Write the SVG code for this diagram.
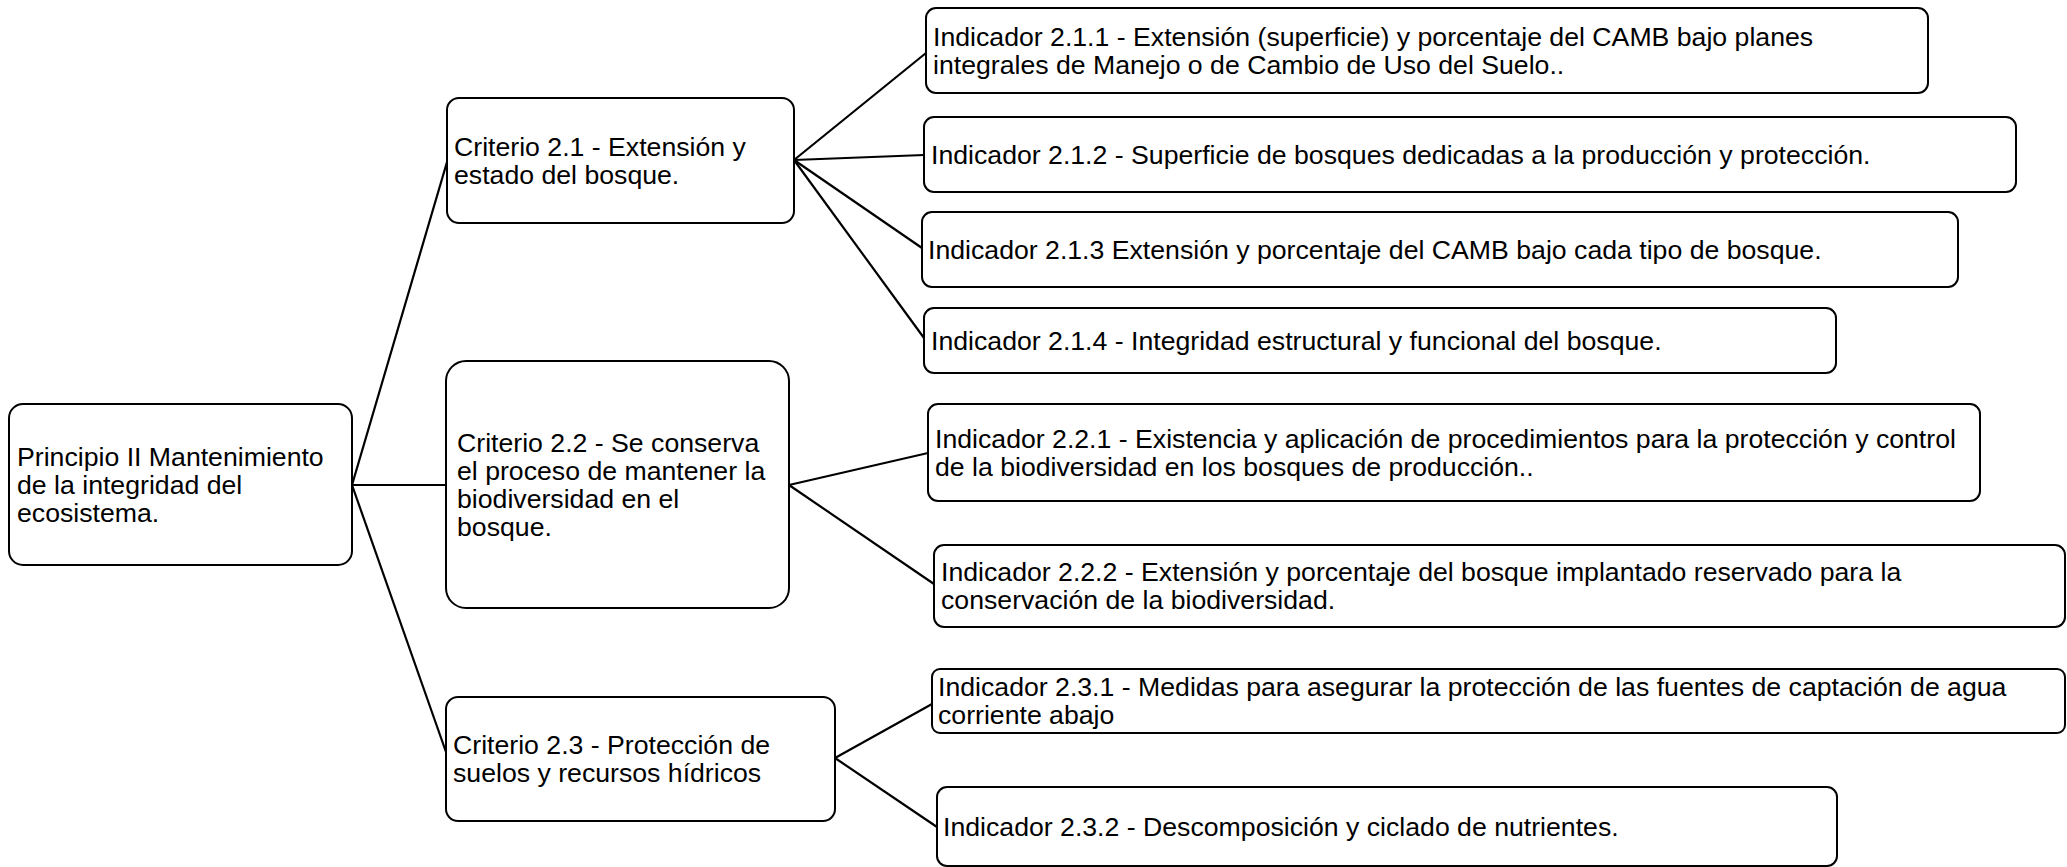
<svg xmlns="http://www.w3.org/2000/svg" width="2067" height="867" viewBox="0 0 2067 867">
<style>
.box{fill:#fff;stroke:#000;stroke-width:2}
.t{font-family:"Liberation Sans",Arial,sans-serif;font-size:26.67px;fill:#000}
.c{stroke:#000;stroke-width:2.2;fill:none}
</style>
<rect width="2067" height="867" fill="#fff"/>
<g id="connectors">
<line class="c" x1="352" y1="485" x2="447" y2="162"/>
<line class="c" x1="352" y1="485" x2="446" y2="485" stroke-width="3"/>
<line class="c" x1="352" y1="485" x2="446" y2="752"/>
<line class="c" x1="794" y1="160" x2="926" y2="53"/>
<line class="c" x1="794" y1="160" x2="924" y2="155"/>
<line class="c" x1="794" y1="160" x2="922" y2="248"/>
<line class="c" x1="794" y1="160" x2="924" y2="338"/>
<line class="c" x1="789" y1="485" x2="928" y2="453"/>
<line class="c" x1="789" y1="485" x2="934" y2="584"/>
<line class="c" x1="835" y1="758" x2="932" y2="704"/>
<line class="c" x1="835" y1="758" x2="937" y2="827"/>
</g>
<g id="principio">
<rect class="box" x="9" y="404" width="343" height="161" rx="14"/>
<text class="t"><tspan x="17" y="465.7">Principio II Mantenimiento</tspan><tspan x="17" y="493.7">de la integridad del</tspan><tspan x="17" y="521.7">ecosistema.</tspan></text>
</g>
<g id="criterio21">
<rect class="box" x="447" y="98" width="347" height="125" rx="12"/>
<text class="t"><tspan x="454" y="155.7">Criterio 2.1 - Extensión y</tspan><tspan x="454" y="183.7">estado del bosque.</tspan></text>
</g>
<g id="criterio22">
<rect class="box" x="446" y="361" width="343" height="247" rx="20"/>
<text class="t"><tspan x="457" y="451.7">Criterio 2.2 - Se conserva</tspan><tspan x="457" y="479.7">el proceso de mantener la</tspan><tspan x="457" y="507.7">biodiversidad en el</tspan><tspan x="457" y="535.7">bosque.</tspan></text>
</g>
<g id="criterio23">
<rect class="box" x="446" y="697" width="389" height="124" rx="12"/>
<text class="t"><tspan x="453" y="754.2">Criterio 2.3 - Protección de</tspan><tspan x="453" y="782.2">suelos y recursos hídricos</tspan></text>
</g>
<g id="ind211">
<rect class="box" x="926" y="8" width="1002" height="85" rx="10"/>
<text class="t"><tspan x="933" y="45.7">Indicador 2.1.1 - Extensión (superficie) y porcentaje del CAMB bajo planes</tspan><tspan x="933" y="73.7">integrales de Manejo o de Cambio de Uso del Suelo..</tspan></text>
</g>
<g id="ind212">
<rect class="box" x="924" y="117" width="1092" height="75" rx="10"/>
<text class="t" x="931" y="163.7">Indicador 2.1.2 - Superficie de bosques dedicadas a la producción y protección.</text>
</g>
<g id="ind213">
<rect class="box" x="922" y="212" width="1036" height="75" rx="10"/>
<text class="t" x="928" y="258.7">Indicador 2.1.3 Extensión y porcentaje del CAMB bajo cada tipo de bosque.</text>
</g>
<g id="ind214">
<rect class="box" x="924" y="308" width="912" height="65" rx="10"/>
<text class="t" x="931" y="349.7">Indicador 2.1.4 - Integridad estructural y funcional del bosque.</text>
</g>
<g id="ind221">
<rect class="box" x="928" y="404" width="1052" height="97" rx="10"/>
<text class="t"><tspan x="935" y="447.7">Indicador 2.2.1 - Existencia y aplicación de procedimientos para la protección y control</tspan><tspan x="935" y="475.7">de la biodiversidad en los bosques de producción..</tspan></text>
</g>
<g id="ind222">
<rect class="box" x="934" y="545" width="1131" height="82" rx="10"/>
<text class="t"><tspan x="941" y="581.2">Indicador 2.2.2 - Extensión y porcentaje del bosque implantado reservado para la</tspan><tspan x="941" y="609.2">conservación de la biodiversidad.</tspan></text>
</g>
<g id="ind231">
<rect class="box" x="932" y="669" width="1133" height="64" rx="8"/>
<text class="t"><tspan x="938" y="696.2">Indicador 2.3.1 - Medidas para asegurar la protección de las fuentes de captación de agua</tspan><tspan x="938" y="724.2">corriente abajo</tspan></text>
</g>
<g id="ind232">
<rect class="box" x="937" y="787" width="900" height="79" rx="10"/>
<text class="t" x="943" y="835.7">Indicador 2.3.2 - Descomposición y ciclado de nutrientes.</text>
</g>
</svg>
